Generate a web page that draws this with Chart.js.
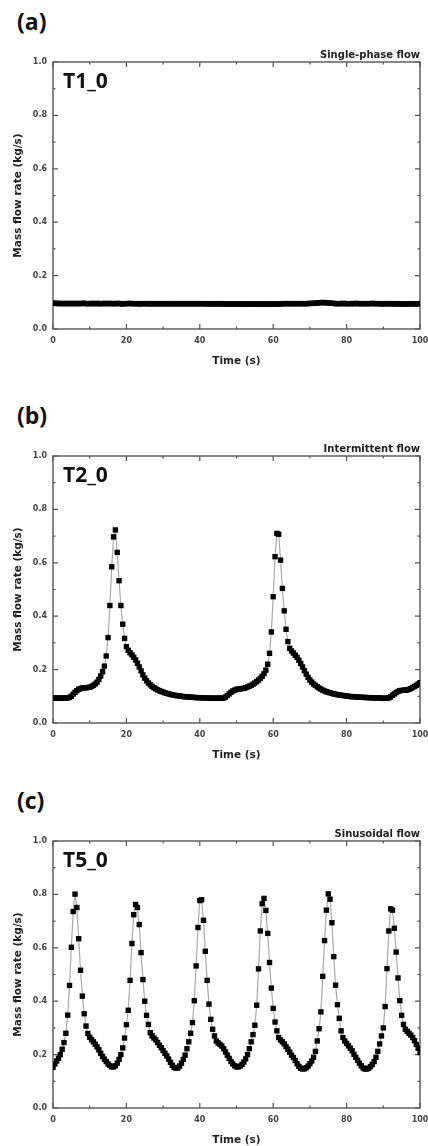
<!DOCTYPE html>
<html>
<head>
<meta charset="utf-8">
<script src="https://cdn.jsdelivr.net/npm/chart.js@4"></script>
<style>
body { margin: 0; width: 428px; height: 1146px; overflow: hidden; background: #fff; position: relative; }
.tag { position: absolute; left: 17px; font: bold 23px/1 "Open Sans", sans-serif; color: #111; }
.box { position: absolute; left: 0; width: 428px; height: 340px; }
</style>
</head>
<body>
<div class="tag" style="top:10px">(a)</div>
<div class="box" style="top:30px"><canvas id="chartA" width="428" height="340"></canvas></div>
<div class="tag" style="top:404px">(b)</div>
<div class="box" style="top:424px"><canvas id="chartB" width="428" height="340"></canvas></div>
<div class="tag" style="top:789px">(c)</div>
<div class="box" style="top:809px"><canvas id="chartC" width="428" height="340"></canvas></div>

<script>
// time stamps (s), one sample every 0.5 s
const times = [
  0, 0.5, 1, 1.5, 2, 2.5, 3, 3.5, 4, 4.5,
  5, 5.5, 6, 6.5, 7, 7.5, 8, 8.5, 9, 9.5,
  10, 10.5, 11, 11.5, 12, 12.5, 13, 13.5, 14, 14.5,
  15, 15.5, 16, 16.5, 17, 17.5, 18, 18.5, 19, 19.5,
  20, 20.5, 21, 21.5, 22, 22.5, 23, 23.5, 24, 24.5,
  25, 25.5, 26, 26.5, 27, 27.5, 28, 28.5, 29, 29.5,
  30, 30.5, 31, 31.5, 32, 32.5, 33, 33.5, 34, 34.5,
  35, 35.5, 36, 36.5, 37, 37.5, 38, 38.5, 39, 39.5,
  40, 40.5, 41, 41.5, 42, 42.5, 43, 43.5, 44, 44.5,
  45, 45.5, 46, 46.5, 47, 47.5, 48, 48.5, 49, 49.5,
  50, 50.5, 51, 51.5, 52, 52.5, 53, 53.5, 54, 54.5,
  55, 55.5, 56, 56.5, 57, 57.5, 58, 58.5, 59, 59.5,
  60, 60.5, 61, 61.5, 62, 62.5, 63, 63.5, 64, 64.5,
  65, 65.5, 66, 66.5, 67, 67.5, 68, 68.5, 69, 69.5,
  70, 70.5, 71, 71.5, 72, 72.5, 73, 73.5, 74, 74.5,
  75, 75.5, 76, 76.5, 77, 77.5, 78, 78.5, 79, 79.5,
  80, 80.5, 81, 81.5, 82, 82.5, 83, 83.5, 84, 84.5,
  85, 85.5, 86, 86.5, 87, 87.5, 88, 88.5, 89, 89.5,
  90, 90.5, 91, 91.5, 92, 92.5, 93, 93.5, 94, 94.5,
  95, 95.5, 96, 96.5, 97, 97.5, 98, 98.5, 99, 99.5,
  100
];

// (a) single-phase flow, kg/s
const flowT1 = [
  0.097,0.096,0.096,0.095,0.096,0.095,0.095,0.096,0.095,0.095,
  0.096,0.095,0.095,0.096,0.095,0.095,0.096,0.096,0.095,0.095,
  0.095,0.096,0.095,0.095,0.096,0.095,0.095,0.095,0.096,0.095,
  0.095,0.096,0.095,0.095,0.095,0.096,0.095,0.095,0.094,0.095,
  0.095,0.095,0.096,0.095,0.095,0.095,0.095,0.094,0.095,0.095,
  0.095,0.095,0.095,0.094,0.095,0.095,0.094,0.095,0.095,0.094,
  0.095,0.095,0.094,0.095,0.095,0.094,0.095,0.094,0.095,0.095,
  0.094,0.095,0.095,0.094,0.095,0.095,0.094,0.095,0.095,0.094,
  0.095,0.095,0.094,0.095,0.094,0.094,0.095,0.094,0.094,0.095,
  0.094,0.094,0.095,0.094,0.093,0.094,0.094,0.093,0.094,0.094,
  0.094,0.093,0.094,0.094,0.093,0.094,0.094,0.093,0.093,0.094,
  0.093,0.094,0.093,0.093,0.094,0.093,0.093,0.094,0.093,0.093,
  0.094,0.093,0.093,0.094,0.094,0.095,0.095,0.095,0.095,0.095,
  0.095,0.095,0.095,0.095,0.095,0.095,0.095,0.095,0.095,0.095,
  0.096,0.096,0.096,0.097,0.097,0.098,0.099,0.099,0.099,0.098,
  0.098,0.097,0.096,0.096,0.095,0.095,0.095,0.095,0.096,0.095,
  0.095,0.095,0.095,0.095,0.095,0.096,0.095,0.095,0.095,0.095,
  0.095,0.095,0.095,0.095,0.096,0.095,0.095,0.095,0.095,0.094,
  0.095,0.094,0.095,0.095,0.094,0.095,0.094,0.094,0.095,0.094,
  0.094,0.093,0.094,0.094,0.094,0.094,0.095,0.094,0.094,0.095,
  0.095
];

// (b) intermittent flow, kg/s
const flowT2 = [
  0.094,0.093,0.093,0.094,0.093,0.093,0.094,0.093,0.094,0.096,
  0.100,0.108,0.115,0.121,0.126,0.129,0.131,0.132,0.132,0.133,
  0.134,0.137,0.141,0.146,0.153,0.163,0.176,0.192,0.213,0.251,
  0.320,0.440,0.585,0.697,0.723,0.639,0.533,0.440,0.370,0.317,
  0.286,0.272,0.263,0.255,0.246,0.236,0.224,0.210,0.195,0.180,
  0.168,0.158,0.150,0.143,0.137,0.132,0.128,0.124,0.121,0.118,
  0.116,0.113,0.111,0.109,0.107,0.106,0.104,0.103,0.102,0.101,
  0.100,0.099,0.098,0.098,0.097,0.097,0.096,0.096,0.095,0.095,
  0.095,0.094,0.094,0.094,0.094,0.093,0.093,0.093,0.093,0.093,
  0.093,0.093,0.093,0.094,0.097,0.103,0.109,0.115,0.120,0.123,
  0.126,0.127,0.128,0.129,0.130,0.132,0.135,0.138,0.141,0.145,
  0.150,0.155,0.161,0.167,0.175,0.185,0.198,0.220,0.261,0.341,
  0.473,0.623,0.710,0.707,0.610,0.504,0.420,0.351,0.305,0.280,
  0.270,0.262,0.254,0.246,0.235,0.223,0.210,0.196,0.183,0.171,
  0.161,0.153,0.146,0.141,0.136,0.131,0.127,0.123,0.120,0.117,
  0.115,0.113,0.111,0.109,0.108,0.106,0.105,0.104,0.103,0.102,
  0.101,0.100,0.099,0.099,0.098,0.098,0.097,0.097,0.096,0.096,
  0.096,0.095,0.095,0.095,0.094,0.094,0.094,0.094,0.094,0.093,
  0.093,0.093,0.093,0.094,0.098,0.104,0.109,0.114,0.118,0.121,
  0.122,0.123,0.123,0.124,0.126,0.129,0.133,0.137,0.141,0.146,
  0.151
];

// (c) sinusoidal flow, kg/s
const flowT5 = [
  0.152,0.165,0.176,0.186,0.200,0.220,0.245,0.280,0.348,0.459,
  0.602,0.736,0.801,0.751,0.634,0.516,0.419,0.353,0.307,0.279,
  0.265,0.256,0.248,0.239,0.229,0.218,0.205,0.193,0.183,0.174,
  0.165,0.159,0.154,0.154,0.158,0.168,0.182,0.200,0.225,0.262,
  0.312,0.366,0.478,0.616,0.724,0.762,0.751,0.687,0.582,0.481,
  0.400,0.347,0.313,0.282,0.270,0.262,0.255,0.245,0.235,0.226,
  0.215,0.205,0.195,0.183,0.171,0.160,0.152,0.149,0.150,0.157,
  0.168,0.182,0.198,0.222,0.248,0.280,0.320,0.402,0.532,0.676,
  0.777,0.780,0.703,0.587,0.478,0.389,0.332,0.295,0.270,0.251,
  0.244,0.238,0.232,0.222,0.210,0.198,0.186,0.174,0.165,0.158,
  0.154,0.154,0.157,0.163,0.172,0.184,0.200,0.222,0.248,0.275,
  0.310,0.385,0.521,0.663,0.765,0.785,0.740,0.654,0.545,0.449,
  0.373,0.322,0.289,0.264,0.255,0.248,0.240,0.230,0.220,0.209,
  0.198,0.189,0.178,0.166,0.156,0.149,0.146,0.147,0.151,0.157,
  0.166,0.176,0.190,0.212,0.251,0.297,0.360,0.493,0.627,0.741,
  0.802,0.782,0.694,0.567,0.460,0.387,0.336,0.289,0.264,0.251,
  0.242,0.233,0.224,0.214,0.201,0.190,0.179,0.168,0.158,0.150,
  0.146,0.146,0.149,0.155,0.163,0.174,0.190,0.212,0.240,0.270,
  0.300,0.380,0.522,0.663,0.746,0.741,0.673,0.584,0.487,0.402,
  0.347,0.313,0.295,0.287,0.280,0.273,0.264,0.252,0.238,0.224,
  0.208
];

// tick positions
const xMajor = [0, 20, 40, 60, 80, 100];
const xMinor = [10, 30, 50, 70, 90];
const yMajor = [0, 0.2, 0.4, 0.6, 0.8, 1.0];
const yMinor = [0.1, 0.3, 0.5, 0.7, 0.9];

const axisFont = { family: '"DejaVu Sans", sans-serif', size: 8, weight: 'bold' };
const titleFont = { family: '"DejaVu Sans", sans-serif', size: 10.5, weight: 'bold' };

// frame, inward ticks, flow name and case label
const framePlugin = {
    id: 'frame',
    beforeDatasetsDraw(chart, args, opts) {
        const { ctx, chartArea: a, scales: { x, y } } = chart;
        ctx.save();
        ctx.strokeStyle = '#555';
        ctx.lineWidth = 1.4;
        ctx.strokeRect(a.left, a.top, a.right - a.left, a.bottom - a.top);

        ctx.lineWidth = 1.2;
        ctx.beginPath();
        const xTick = (v, len) => {
            const p = x.getPixelForValue(v);
            ctx.moveTo(p, a.bottom); ctx.lineTo(p, a.bottom - len);
            ctx.moveTo(p, a.top); ctx.lineTo(p, a.top + len);
        };
        const yTick = (v, len) => {
            const p = y.getPixelForValue(v);
            ctx.moveTo(a.left, p); ctx.lineTo(a.left + len, p);
            ctx.moveTo(a.right, p); ctx.lineTo(a.right - len, p);
        };
        xMajor.forEach(v => xTick(v, 5));
        xMinor.forEach(v => xTick(v, 2.5));
        yMajor.forEach(v => yTick(v, 5));
        yMinor.forEach(v => yTick(v, 2.5));
        ctx.stroke();

        ctx.fillStyle = '#222';
        ctx.font = 'bold 10px "DejaVu Sans", sans-serif';
        ctx.textAlign = 'right';
        ctx.textBaseline = 'alphabetic';
        ctx.fillText(opts.note, a.right, a.top - 4);

        ctx.fillStyle = '#111';
        ctx.font = 'bold 21px "Open Sans", sans-serif';
        ctx.textAlign = 'left';
        ctx.fillText(opts.label, a.left + 10, a.top + 26);
        ctx.restore();
    }
};

function drawFlow(id, values, note, label) {
    const points = times.map((t, i) => ({ x: t, y: values[i] }));
    return new Chart(document.getElementById(id), {
        type: 'line',
        data: {
            datasets: [{
                data: points,
                borderColor: '#aaa',
                borderWidth: 1.2,
                tension: 0,
                pointStyle: 'rect',
                pointRadius: 3.8,
                pointBorderWidth: 0,
                pointBackgroundColor: '#000'
            }]
        },
        options: {
            responsive: false,
            animation: false,
            devicePixelRatio: 1,
            layout: { padding: { top: 32, right: 0, left: 0, bottom: 0 } },
            plugins: {
                legend: { display: false },
                tooltip: { enabled: false },
                frame: { note: note, label: label }
            },
            scales: {
                x: {
                    type: 'linear',
                    min: 0, max: 100,
                    grid: { display: false, drawTicks: false },
                    border: { display: false },
                    ticks: { stepSize: 20, font: axisFont, color: '#444', padding: 7, maxRotation: 0 },
                    title: { display: true, text: 'Time (s)', font: titleFont, color: '#222', padding: { top: 0, bottom: 2 } },
                    afterFit: s => { s.height = 41; s.paddingLeft = 0; s.paddingRight = 8; }
                },
                y: {
                    min: 0, max: 1,
                    grid: { display: false, drawTicks: false },
                    border: { display: false },
                    ticks: { stepSize: 0.2, font: axisFont, color: '#444', padding: 6, callback: v => v.toFixed(1) },
                    title: { display: true, text: 'Mass flow rate (kg/s)', font: titleFont, color: '#222', padding: { top: 12, bottom: 0 } },
                    afterFit: s => { s.width = 53; }
                }
            }
        },
        plugins: [framePlugin]
    });
}

drawFlow('chartA', flowT1, 'Single-phase flow', 'T1_0');
drawFlow('chartB', flowT2, 'Intermittent flow', 'T2_0');
drawFlow('chartC', flowT5, 'Sinusoidal flow', 'T5_0');
</script>
</body>
</html>
